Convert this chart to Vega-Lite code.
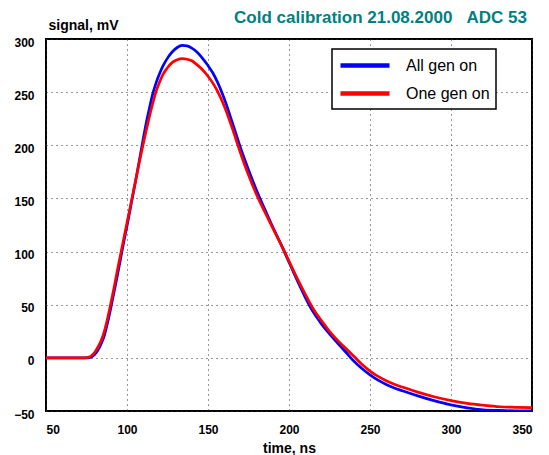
{
  "$schema": "https://vega.github.io/schema/vega-lite/v6.json",
  "width": 486,
  "height": 372,
  "autosize": {"type": "none"},
  "padding": {"left": 46, "top": 39, "right": 17, "bottom": 44},
  "background": "white",
  "title": {
    "text": "Cold calibration 21.08.2000\u00a0\u00a0\u00a0ADC 53",
    "anchor": "end",
    "frame": "group",
    "baseline": "alphabetic",
    "font": "Liberation Sans",
    "fontSize": 17,
    "fontWeight": "bold",
    "color": "#008080",
    "offset": 0,
    "dx": -5,
    "dy": 22
  },
  "config": {
    "view": {"stroke": "black", "strokeWidth": 2},
    "axis": {
      "labelFont": "Liberation Sans",
      "labelFontSize": 12,
      "labelFontWeight": "bold",
      "labelColor": "black",
      "titleFont": "Liberation Sans",
      "titleFontSize": 14,
      "titleFontWeight": "bold",
      "titleColor": "black",
      "grid": true,
      "gridDash": [1, 4],
      "gridColor": "#333333",
      "gridWidth": 1,
      "ticks": false,
      "domain": false
    },
    "legend": {
      "strokeWidth": 1.5
    }
  },
  "data": {
    "values": [
      {"t": 50, "all": 0, "one": 0},
      {"t": 55, "all": 0, "one": 0},
      {"t": 60, "all": 0, "one": 0},
      {"t": 65, "all": 0, "one": 0},
      {"t": 70, "all": 0, "one": 0},
      {"t": 74, "all": 0, "one": 0},
      {"t": 76, "all": 0, "one": 0.5},
      {"t": 78, "all": 0.8, "one": 2},
      {"t": 80, "all": 3, "one": 5},
      {"t": 82, "all": 7, "one": 10},
      {"t": 84, "all": 13, "one": 16},
      {"t": 86, "all": 21, "one": 25},
      {"t": 88, "all": 33, "one": 37},
      {"t": 90, "all": 47, "one": 51},
      {"t": 92, "all": 62, "one": 66},
      {"t": 94, "all": 77, "one": 82},
      {"t": 96, "all": 93, "one": 97},
      {"t": 98, "all": 109, "one": 112},
      {"t": 100, "all": 124, "one": 127},
      {"t": 102, "all": 140, "one": 142},
      {"t": 104, "all": 156, "one": 157},
      {"t": 106, "all": 172, "one": 172},
      {"t": 108, "all": 189, "one": 187},
      {"t": 110, "all": 206, "one": 201},
      {"t": 112, "all": 222, "one": 215},
      {"t": 114, "all": 236, "one": 228},
      {"t": 116, "all": 249, "one": 240},
      {"t": 118, "all": 259, "one": 251},
      {"t": 120, "all": 267, "one": 259},
      {"t": 122, "all": 274, "one": 266},
      {"t": 125, "all": 282, "one": 273},
      {"t": 128, "all": 288, "one": 278},
      {"t": 131, "all": 292, "one": 280.5},
      {"t": 134, "all": 294, "one": 281.5},
      {"t": 137, "all": 293.5, "one": 281},
      {"t": 140, "all": 291.5, "one": 279.5},
      {"t": 143, "all": 288, "one": 276},
      {"t": 146, "all": 283, "one": 272},
      {"t": 150, "all": 275, "one": 265},
      {"t": 153, "all": 268, "one": 258.5},
      {"t": 156, "all": 259, "one": 250.5},
      {"t": 160, "all": 244, "one": 237},
      {"t": 165, "all": 221.5, "one": 216},
      {"t": 170, "all": 198, "one": 193},
      {"t": 175, "all": 177, "one": 172},
      {"t": 180, "all": 157.5, "one": 153.5},
      {"t": 185, "all": 140, "one": 137.5},
      {"t": 190, "all": 123, "one": 122},
      {"t": 195, "all": 107, "one": 107},
      {"t": 200, "all": 90, "one": 91},
      {"t": 205, "all": 73, "one": 75},
      {"t": 210, "all": 57, "one": 60},
      {"t": 215, "all": 43, "one": 46},
      {"t": 220, "all": 32, "one": 35},
      {"t": 225, "all": 22.5, "one": 25},
      {"t": 230, "all": 14, "one": 16.5},
      {"t": 235, "all": 5.5, "one": 9},
      {"t": 240, "all": -3, "one": 1.5},
      {"t": 245, "all": -10, "one": -6},
      {"t": 250, "all": -16, "one": -12.5},
      {"t": 255, "all": -21, "one": -17.5},
      {"t": 260, "all": -25, "one": -21.5},
      {"t": 265, "all": -28.3, "one": -24.8},
      {"t": 270, "all": -31, "one": -27.5},
      {"t": 280, "all": -36, "one": -32.5},
      {"t": 290, "all": -40.5, "one": -36.8},
      {"t": 300, "all": -44.3, "one": -40.2},
      {"t": 310, "all": -47, "one": -42.8},
      {"t": 320, "all": -48.8, "one": -44.6},
      {"t": 330, "all": -49.5, "one": -46},
      {"t": 340, "all": -49.8, "one": -46.5},
      {"t": 350, "all": -49.8, "one": -46.8}
    ]
  },
  "transform": [
    {"fold": ["all", "one"], "as": ["series", "v"]}
  ],
  "mark": {"type": "line", "strokeWidth": 2.7, "interpolate": "monotone", "clip": true},
  "encoding": {
    "x": {
      "field": "t",
      "type": "quantitative",
      "scale": {"domain": [50, 350], "nice": false, "zero": false},
      "axis": {
        "values": [50, 100, 150, 200, 250, 300, 350],
        "title": "time, ns",
        "labelPadding": 13,
        "titlePadding": 6
      }
    },
    "y": {
      "field": "v",
      "type": "quantitative",
      "scale": {"domain": [-50, 300], "nice": false, "zero": false},
      "axis": {
        "values": [-50, 0, 50, 100, 150, 200, 250, 300],
        "title": "signal, mV",
        "titleAngle": 0,
        "titleAlign": "left",
        "titleBaseline": "alphabetic",
        "titleX": 2,
        "titleY": -10,
        "labelPadding": 12,
        "labelOffset": 3
      }
    },
    "color": {
      "field": "series",
      "type": "nominal",
      "scale": {"domain": ["all", "one"], "range": ["#0000ff", "#ff0000"]},
      "legend": {
        "title": null,
        "orient": "none",
        "legendX": 286,
        "legendY": 10,
        "strokeColor": "black",
        "fillColor": "white",
        "padding": 6,
        "rowPadding": 8,
        "symbolType": "M-1,0L5.125,0",
        "symbolSize": 256,
        "symbolStrokeWidth": 4.5,
        "labelFont": "Liberation Sans",
        "labelFontSize": 16,
        "labelColor": "black",
        "labelOffset": 47,
        "labelExpr": "datum.label == 'all' ? 'All gen on' : 'One gen on'"
      }
    }
  }
}
